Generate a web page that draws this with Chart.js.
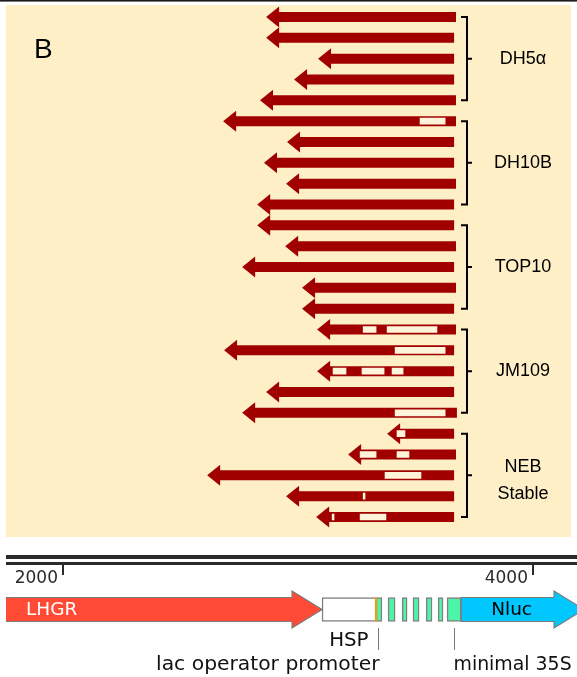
<!DOCTYPE html>
<html><head><meta charset="utf-8">
<script src="https://cdn.jsdelivr.net/npm/chart.js@4.4.1/dist/chart.umd.min.js"></script>
<style>
html,body{margin:0;padding:0;background:#fff;}
#wrap{position:relative;width:577px;height:677px;overflow:hidden;}
#top{position:absolute;left:0;top:0;}
#map{position:absolute;left:0;top:540px;}
</style></head><body>
<div id="wrap">
<canvas id="top" width="577" height="540"></canvas>
<canvas id="map" width="577" height="137"></canvas>
</div>
<script>
// ---------- DATA ----------
const panelLabel = 'B';
const strainNames = ['DH5α', 'DH10B', 'TOP10', 'JM109', ['NEB', 'Stable']];
const readsPerStrain = 5;
// sequencing reads (reverse direction): arrow tip (5') and read end, in bp
const readTip = [2864, 2864, 3085, 2983, 2838,
                 2681, 2953, 2855, 2949, 2826,
                 2826, 2945, 2762, 3017, 3017,
                 3081, 2685, 3081, 2864, 2762,
                 3379, 3213, 2613, 2949, 3077];
const readEnd = [3672, 3664, 3664, 3664, 3672,
                 3672, 3664, 3664, 3672, 3664,
                 3664, 3672, 3664, 3672, 3664,
                 3672, 3664, 3664, 3664, 3676,
                 3664, 3672, 3664, 3664, 3664];
// low-quality / mismatch segments inside reads (up to three per read)
const gapA = [null, null, null, null, null,
              [3519, 3626], null, null, null, null,
              null, null, null, null, null,
              [3277, 3332], [3413, 3626], [3149, 3204], null, [3413, 3626],
              [3421, 3455], [3264, 3332], [3370, 3523], [3277, 3285], [3145, 3153]];
const gapB = [null, null, null, null, null,
              null, null, null, null, null,
              null, null, null, null, null,
              [3379, 3591], null, [3272, 3366], null, null,
              null, [3421, 3472], null, null, [3264, 3374]];
const gapC = [null, null, null, null, null,
              null, null, null, null, null,
              null, null, null, null, null,
              null, null, [3400, 3447], null, null,
              null, null, null, null, null];

// plasmid map (bp)
const axisMin = 1757, axisMax = 4187;
const rulerTicks = [2000, 4000];
const featureNames = ['LHGR', 'HSP', 'lacO', 'lacO', 'lacO', 'lacO', 'lacO', 'lacO', 'minimal 35S', 'Nluc'];
const featureStart = [1700, 3102, 3332, 3383, 3443, 3489, 3545, 3596, 3634, 3694];
const featureEnd   = [3102, 3332, 3357, 3413, 3464, 3515, 3570, 3617, 3694, 4217];
const featureShape = ['arrow', 'box', 'box', 'box', 'box', 'box', 'box', 'box', 'box', 'arrow'];
const featureShown = ['LHGR', '', '', '', '', '', '', '', '', 'Nluc'];
const annotLabels = ['HSP', 'lac operator promoter', 'minimal 35S'];
const annotPos    = [3340, 3340, 3664];

// ---------- STYLE ----------
const RED = '#A10000', BEIGE = '#FEEFC7', CREAM = '#FFF4DA';
const featureColor = {LHGR: '#FF4B36', HSP: '#FFFFFF', lacO: '#4DF5A8', 'minimal 35S': '#4DF5A8', Nluc: '#00C8FF'};
const SANS = "'Liberation Sans', Arial, sans-serif";
const MAPFONT = "'DejaVu Sans', Verdana, sans-serif";
const annotFontSize = [19.8, 20.3, 18.9];

function arrowPath(ctx, tailX, tipX, y, bodyH, headL, headH) {
  const dir = tipX < tailX ? -1 : 1;
  const hb = tipX - dir * headL;
  ctx.beginPath();
  ctx.moveTo(tailX, y - bodyH / 2);
  ctx.lineTo(hb, y - bodyH / 2);
  ctx.lineTo(hb, y - headH / 2);
  ctx.lineTo(tipX, y);
  ctx.lineTo(hb, y + headH / 2);
  ctx.lineTo(hb, y + bodyH / 2);
  ctx.lineTo(tailX, y + bodyH / 2);
  ctx.closePath();
}

const arrowPlugin = {
  id: 'arrowShapes',
  beforeDatasetDraw(chart, args) {
    const ds = chart.data.datasets[args.index];
    if (!ds.arrowTo) return;
    const ctx = chart.ctx, ca = chart.chartArea;
    ctx.save();
    ctx.beginPath();
    ctx.rect(ca.left, 0, ca.right - ca.left, chart.height);
    ctx.clip();
    args.meta.data.forEach((el) => {
      if (el.skip) return;
      const p = el.getProps(['x', 'y', 'base', 'height'], true);
      const tip = ds.arrowTo === 'start' ? p.base : p.x;
      const tail = ds.arrowTo === 'start' ? p.x : p.base;
      arrowPath(ctx, tail, tip, p.y, p.height, ds.headLength, ds.headHeight);
      ctx.fillStyle = ds.backgroundColor;
      ctx.fill();
      if (ds.outline) { ctx.lineWidth = 1.2; ctx.strokeStyle = ds.outline; ctx.stroke(); }
    });
    ctx.restore();
    return false;
  }
};

// ---------- TOP PANEL: reads ----------
const rowLabels = readTip.map((_, i) => 'read ' + (i + 1));
const topDecor = {
  id: 'topDecor',
  beforeDraw(chart) {
    const ctx = chart.ctx;
    ctx.save();
    ctx.fillStyle = '#1c1c1c';
    ctx.fillRect(0, 0, chart.width, 1.6);
    ctx.fillStyle = BEIGE;
    ctx.fillRect(6, 5, 565, 532);
    ctx.restore();
  },
  afterDraw(chart) {
    const ctx = chart.ctx, ys = chart.scales.y;
    ctx.save();
    ctx.fillStyle = '#000';
    ctx.font = '28px ' + SANS;
    ctx.textAlign = 'left';
    ctx.textBaseline = 'alphabetic';
    ctx.fillText(panelLabel, 34, 58);
    ctx.strokeStyle = '#000';
    ctx.lineWidth = 2;
    strainNames.forEach((name, g) => {
      const y0 = ys.getPixelForValue(g * readsPerStrain);
      const y1 = ys.getPixelForValue(g * readsPerStrain + readsPerStrain - 1);
      const ym = ys.getPixelForValue(g * readsPerStrain + 2);
      ctx.beginPath();
      ctx.moveTo(461, y0); ctx.lineTo(467, y0); ctx.lineTo(467, y1); ctx.lineTo(461, y1);
      ctx.moveTo(467, ym); ctx.lineTo(472, ym);
      ctx.stroke();
      ctx.font = '18px ' + SANS;
      ctx.textAlign = 'center';
      ctx.textBaseline = 'middle';
      if (Array.isArray(name)) {
        const mid = (ym + ys.getPixelForValue(g * readsPerStrain + 3)) / 2 - 5;
        ctx.fillText(name[0], 523, mid - 13.5);
        ctx.fillText(name[1], 523, mid + 13.5);
      } else {
        ctx.fillText(name, 523, ym);
      }
    });
    ctx.restore();
  }
};

new Chart(document.getElementById('top').getContext('2d'), {
  type: 'bar',
  data: {
    labels: rowLabels,
    datasets: [
      {label: 'reads', data: readTip.map((t, i) => [t, readEnd[i]]), backgroundColor: RED,
       barThickness: 10, grouped: false, order: 3, arrowTo: 'start', headLength: 13, headHeight: 21},
      {label: 'gapA', data: gapA, backgroundColor: CREAM, borderWidth: 0, barThickness: 6, grouped: false, order: 1},
      {label: 'gapB', data: gapB, backgroundColor: CREAM, borderWidth: 0, barThickness: 6, grouped: false, order: 1},
      {label: 'gapC', data: gapC, backgroundColor: CREAM, borderWidth: 0, barThickness: 6, grouped: false, order: 1}
    ]
  },
  options: {
    indexAxis: 'y', responsive: false, animation: false, events: [],
    layout: {padding: {left: 6, right: 0, top: 6.6, bottom: 12.6}},
    scales: {
      x: {type: 'linear', min: axisMin, max: axisMax, display: false},
      y: {type: 'category', display: false, offset: true}
    },
    plugins: {legend: {display: false}, tooltip: {enabled: false}}
  },
  plugins: [arrowPlugin, topDecor]
});

// ---------- BOTTOM: plasmid map ----------
const mapDecor = {
  id: 'mapDecor',
  beforeDraw(chart) {
    const ctx = chart.ctx, xs = chart.scales.x;
    ctx.save();
    ctx.fillStyle = '#2a2a2a';
    ctx.fillRect(6, 15, chart.width - 6, 4);
    ctx.fillRect(6, 22, chart.width - 6, 3);
    ctx.font = '17px ' + MAPFONT;
    ctx.textAlign = 'right';
    ctx.textBaseline = 'alphabetic';
    rulerTicks.forEach(v => {
      const x = Math.round(xs.getPixelForValue(v));
      ctx.fillRect(x - 1, 24, 2, 11);
      ctx.fillText(String(v), x - 5, 43);
    });
    ctx.restore();
  },
  afterDraw(chart) {
    const ctx = chart.ctx, xs = chart.scales.x, ys = chart.scales.y;
    const yc = ys.getPixelForValue(0);
    ctx.save();
    // orange edge between HSP and first lac operator
    const hx = xs.getPixelForValue(featureEnd[1]);
    ctx.fillStyle = '#FF9A00';
    ctx.fillRect(hx - 1, yc - 12, 2, 24);
    // feature labels inside shapes
    ctx.font = '18.5px ' + MAPFONT;
    ctx.textBaseline = 'middle';
    featureShown.forEach((t, i) => {
      if (!t) return;
      const x0 = xs.getPixelForValue(featureStart[i]);
      const x1 = xs.getPixelForValue(featureEnd[i]);
      if (i === 0) { ctx.fillStyle = '#fff'; ctx.textAlign = 'left'; ctx.fillText(t, 26, yc + 1); }
      else { ctx.fillStyle = '#000'; ctx.textAlign = 'center'; ctx.fillText(t, (x0 + x1 - 22) / 2, yc + 1); }
    });
    // annotation ticks and labels
    ctx.strokeStyle = '#777';
    ctx.lineWidth = 1;
    ctx.fillStyle = '#111';
    ctx.textBaseline = 'alphabetic';
    const drawn = {};
    annotLabels.forEach((t, i) => {
      const x = Math.round(xs.getPixelForValue(annotPos[i])) + 0.5;
      if (!drawn[x]) {
        ctx.beginPath(); ctx.moveTo(x, 88); ctx.lineTo(x, 110); ctx.stroke();
        drawn[x] = true;
      }
      ctx.font = annotFontSize[i] + 'px ' + MAPFONT;
      if (i === 0) { ctx.textAlign = 'right'; ctx.fillText(t, x - 10, 106); }
      else if (i === 1) { ctx.textAlign = 'right'; ctx.fillText(t, x + 1, 130); }
      else { ctx.textAlign = 'left'; ctx.fillText(t, x - 1, 130); }
    });
    ctx.restore();
  }
};

const mapDatasets = featureNames.map((n, i) => {
  const d = {
    label: n, data: [[featureStart[i], featureEnd[i]]],
    backgroundColor: featureColor[n], borderColor: '#808080', borderWidth: 1.5,
    borderSkipped: false, barThickness: 24, grouped: false
  };
  if (featureShape[i] === 'arrow') {
    d.arrowTo = 'end'; d.headLength = 30; d.headHeight = 37; d.outline = '#7a7a7a';
  }
  return d;
});

new Chart(document.getElementById('map').getContext('2d'), {
  type: 'bar',
  data: {labels: ['construct'], datasets: mapDatasets},
  options: {
    indexAxis: 'y', responsive: false, animation: false, events: [],
    layout: {padding: {left: 6, right: 0, top: 57, bottom: 55}},
    scales: {
      x: {type: 'linear', min: axisMin, max: axisMax, display: false},
      y: {type: 'category', display: false, offset: true}
    },
    plugins: {legend: {display: false}, tooltip: {enabled: false}}
  },
  plugins: [arrowPlugin, mapDecor]
});
</script>
</body></html>
